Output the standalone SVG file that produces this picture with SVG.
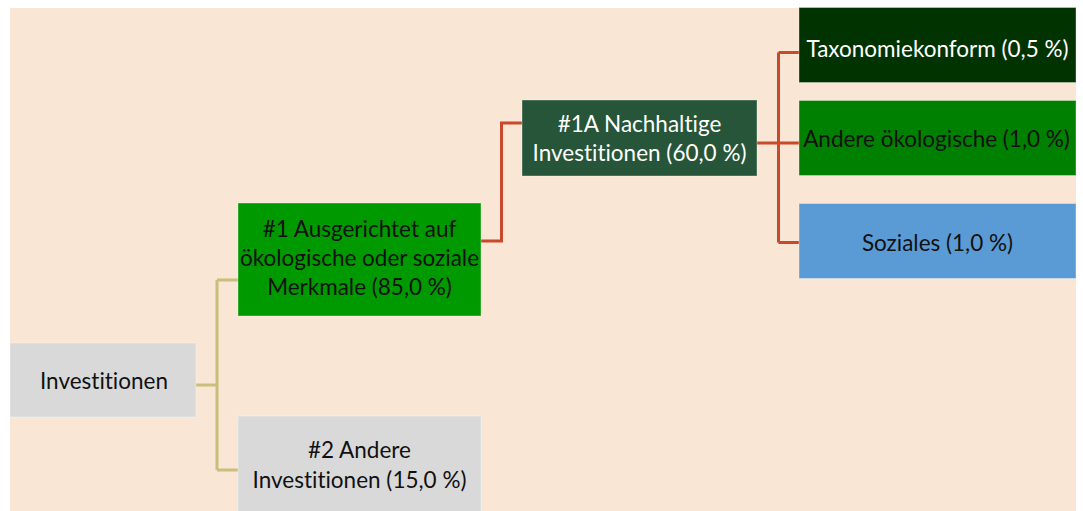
<svg xmlns="http://www.w3.org/2000/svg" width="1083" height="511" viewBox="0 0 1083 511">
<style>
.t{font-family:Lato,"Liberation Sans",sans-serif;font-size:22.5px;text-anchor:middle;fill:#111;font-variant-ligatures:none;font-feature-settings:"liga" 0}
.w{fill:#ffffff}
.box{stroke:#ffffff;stroke-opacity:0.35;stroke-width:1}
.red{fill:none;stroke:#c9492a;stroke-width:3}
.tan{fill:none;stroke:#c8c07a;stroke-width:3}
</style>
<rect x="0" y="0" width="1083" height="511" fill="#ffffff"/>
<rect x="10" y="8" width="1066" height="503" fill="#f9e6d5"/>
<g id="connectors">
<path class="tan" d="M195,385 H217 M217,280 V470 M217,280 H238 M217,470 H238"/>
<path class="red" d="M480,241 H501.5 V123 H522"/>
<path class="red" d="M757,143 H799 M778.5,52.5 V242.5 M778.5,52.5 H799 M778.5,242.5 H799"/>
</g>
<g id="n-invest">
<rect class="box" x="10" y="343" width="186" height="74" fill="#d9d9d9"/>
<text class="t" x="104" y="389">Investitionen</text>
</g>
<g id="n-1">
<rect class="box" x="238" y="203" width="243" height="113" fill="#009900"/>
<text class="t" x="359.5" y="237">#1 Ausgerichtet auf</text>
<text class="t" x="359.5" y="266">ökologische oder soziale</text>
<text class="t" x="359.5" y="295">Merkmale (85,0 %)</text>
</g>
<g id="n-2">
<rect class="box" x="238" y="416" width="243" height="100" fill="#d9d9d9"/>
<text class="t" x="359.5" y="458">#2 Andere</text>
<text class="t" x="359.5" y="488">Investitionen (15,0 %)</text>
</g>
<g id="n-1a">
<rect class="box" x="522" y="100" width="235" height="76" fill="#265539"/>
<text class="t w" x="639.5" y="132">#1A Nachhaltige</text>
<text class="t w" x="639.5" y="161">Investitionen (60,0 %)</text>
</g>
<g id="n-taxo">
<rect class="box" x="799" y="7.5" width="277" height="75" fill="#003300"/>
<text class="t w" x="937.5" y="57">Taxonomiekonform (0,5 %)</text>
</g>
<g id="n-andere">
<rect class="box" x="799" y="100.5" width="277" height="75" fill="#008000"/>
<text class="t" x="936.5" y="147">Andere ökologische (1,0 %)</text>
</g>
<g id="n-sozial">
<rect class="box" x="799" y="203.5" width="277" height="75" fill="#5b9bd5"/>
<text class="t" x="937.5" y="251">Soziales (1,0 %)</text>
</g>
</svg>
